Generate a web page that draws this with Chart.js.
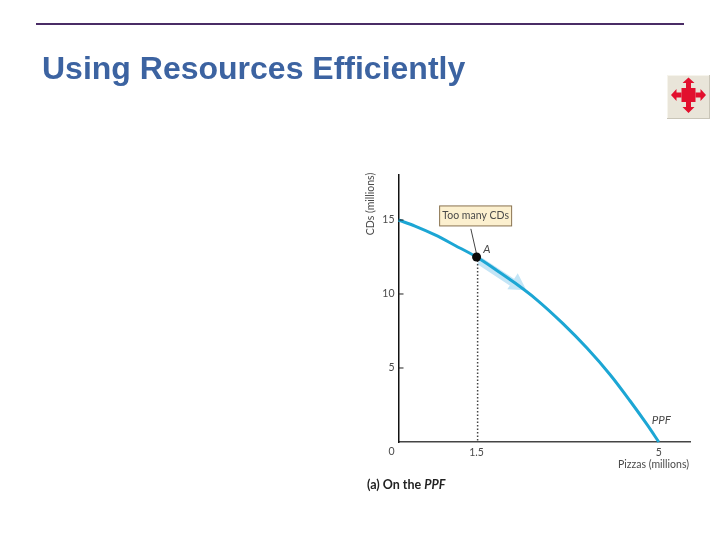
<!DOCTYPE html>
<html><head><meta charset="utf-8">
<script src="https://cdn.jsdelivr.net/npm/chart.js@4"></script>
<style>
html,body{margin:0;padding:0;background:#fff;width:720px;height:540px;overflow:hidden}
#c{position:absolute;left:0;top:0}
#rule{position:absolute;left:36px;top:23px;width:648px;height:2px;background:#4a2c66}
#t{position:absolute;left:42px;top:50px;margin:0;font:bold 32px/36px "Liberation Sans",Arial,sans-serif;color:#3c63a1;white-space:nowrap}
#icon{position:absolute;left:667px;top:75px}
</style></head><body>
<canvas id="c" width="720" height="540"></canvas>
<div id="rule"></div>
<h1 id="t">Using Resources Efficiently</h1>
<svg id="icon" width="43" height="44" viewBox="0 0 43 44">
<rect width="43" height="44" fill="#e9e5d9"/>
<path d="M0 44V0H43" fill="none" stroke="#f6f4ec" stroke-width="2"/>
<path d="M0 44H43V0" fill="none" stroke="#c9c5b8" stroke-width="2"/>
<g fill="#e2102e">
<rect x="14.5" y="13" width="14" height="14"/>
<path d="M21.5 2.500L27.500 8H24V13H19V8H15.500Z"/>
<path d="M21.500 38L15.500 32H19V27H24V32H27.500Z"/>
<path d="M4 20L9.500 14V17.500H14.500V22.500H9.500V26Z"/>
<path d="M39 20L33.500 14V17.500H28.500V22.500H33.500V26Z"/>
</g>
</svg>
<script>
const ppfX = [0, 0.317, 0.702, 1.087, 1.5, 1.85, 2.24, 2.64, 3.16, 3.62, 4.07, 4.45, 4.78, 5];
const ppfY = [15, 14.59, 13.99, 13.28, 12.5, 11.69, 10.74, 9.66, 8.0, 6.35, 4.53, 2.77, 1.15, 0];
const moveX = [1.55, 1.9, 2.2];
const moveY = [12.25, 11.45, 10.75];
const headX = [2.28];
const headY = [10.66];
const pointA = [1.5, 12.5];
const dropX = 1.52;
const xTicks = [1.5, 5];
const yTicks = [5, 10, 15];
const xTickLabels = {1.5: "1.5", 5: "5"};
const leaderX = [1.39, 1.5];
const leaderY = [14.4, 12.7];
const labels = {
  callout: "Too many CDs", pointName: "A", curveName: "PPF",
  xTitle: "Pizzas (millions)", yTitle: "CDs (millions)", origin: "0",
  capA: "(a) On the ", capB: "PPF"
};
const toPts = (xs, ys) => xs.map((x, i) => ({x, y: ys[i]}));
const font = '"Lato","Liberation Sans",sans-serif';
const textCol = "#4a4a4a";

const overlay = {
  id: "overlay",
  afterDatasetsDraw(chart) {
    const {ctx, scales: {x, y}} = chart;
    ctx.save();
    ctx.strokeStyle = "#222"; ctx.lineWidth = 1;
    yTicks.forEach(v => {
      const py = y.getPixelForValue(v);
      ctx.beginPath(); ctx.moveTo(x.left, py); ctx.lineTo(x.left + 5, py); ctx.stroke();
    });
    const bx = x.getPixelForValue(0.79), by = y.getPixelForValue(15.95);
    const bw = 72, bh = 20;
    ctx.fillStyle = "#fcf0cf"; ctx.strokeStyle = "#8a7350"; ctx.lineWidth = 1;
    ctx.fillRect(bx, by, bw, bh); ctx.strokeRect(bx, by, bw, bh);
    ctx.fillStyle = textCol; ctx.textBaseline = "middle"; ctx.textAlign = "center";
    ctx.font = "10.5px " + font;
    ctx.fillText(labels.callout, bx + bw / 2, by + bh / 2);
    ctx.font = "italic 11.5px " + font;
    ctx.fillText(labels.pointName, x.getPixelForValue(1.7), y.getPixelForValue(13.05));
    ctx.fillText(labels.curveName, x.getPixelForValue(5.05), y.getPixelForValue(1.5));
    ctx.font = "10.5px " + font;
    ctx.fillText(labels.origin, x.left - 7, y.bottom + 10);
    ctx.textAlign = "right";
    ctx.fillText(labels.xTitle, x.right - 1, y.bottom + 23);
    ctx.save();
    ctx.translate(371, 204); ctx.rotate(-Math.PI / 2);
    ctx.textAlign = "center";
    ctx.fillText(labels.yTitle, 0, 0);
    ctx.restore();
    ctx.textAlign = "left";
    ctx.fillStyle = "#222";
    ctx.font = "bold 12.5px " + font;
    ctx.fillText(labels.capA, 367, 485);
    const w = ctx.measureText(labels.capA).width;
    ctx.font = "italic bold 12.5px " + font;
    ctx.fillText(labels.capB, 367 + w, 485);
    ctx.restore();
  }
};

new Chart(document.getElementById("c"), {
  type: "scatter",
  data: {datasets: [
    {data: toPts(moveX, moveY), showLine: true, borderColor: "#c4e5f6", borderWidth: 8, pointRadius: 0, order: 5, clip: false},
    {data: toPts(headX, headY), pointStyle: "triangle", pointRadius: 11, pointRotation: 123, backgroundColor: "#c4e5f6", borderWidth: 0, order: 4, clip: false},
    {data: toPts(ppfX, ppfY), showLine: true, borderColor: "#1ca6d4", borderWidth: 3, pointRadius: 0, cubicInterpolationMode: "monotone", order: 3, clip: false},
    {data: toPts([dropX, dropX], [pointA[1], 0]), showLine: true, borderColor: "#444", borderWidth: 1.5, borderDash: [1.5, 2], pointRadius: 0, order: 2},
    {data: toPts(leaderX, leaderY), showLine: true, borderColor: "#444", borderWidth: 1, pointRadius: 0, order: 2},
    {data: [{x: pointA[0], y: pointA[1]}], pointRadius: 4.5, backgroundColor: "#0a0a0a", borderWidth: 0, order: 1, clip: false}
  ]},
  options: {
    responsive: false, animation: false, devicePixelRatio: 1,
    layout: {padding: {left: 338.5, top: 175, right: 30, bottom: 68}},
    plugins: {legend: {display: false}, title: {display: false}, tooltip: {enabled: false}},
    scales: {
      x: {type: "linear", min: 0, max: 5.6,
        afterFit: s => { s.height = 30; },
        afterBuildTicks: s => { s.ticks = xTicks.map(value => ({value})); },
        grid: {display: false, drawTicks: false},
        border: {display: true, color: "#444", width: 1.5},
        ticks: {autoSkip: false, maxRotation: 0, padding: 4, color: textCol, font: {family: font, size: 10.5},
          callback: v => xTickLabels[v] ?? ""}},
      y: {type: "linear", min: 0, max: 18.04,
        afterFit: s => { s.width = 60; },
        afterBuildTicks: s => { s.ticks = yTicks.map(value => ({value})); },
        grid: {display: false, drawTicks: false},
        border: {display: true, color: "#111", width: 1.5},
        ticks: {autoSkip: false, padding: 4, color: textCol, font: {family: font, size: 10.5},
          callback: v => String(v)}}
    }
  },
  plugins: [overlay]
});
</script>
</body></html>
